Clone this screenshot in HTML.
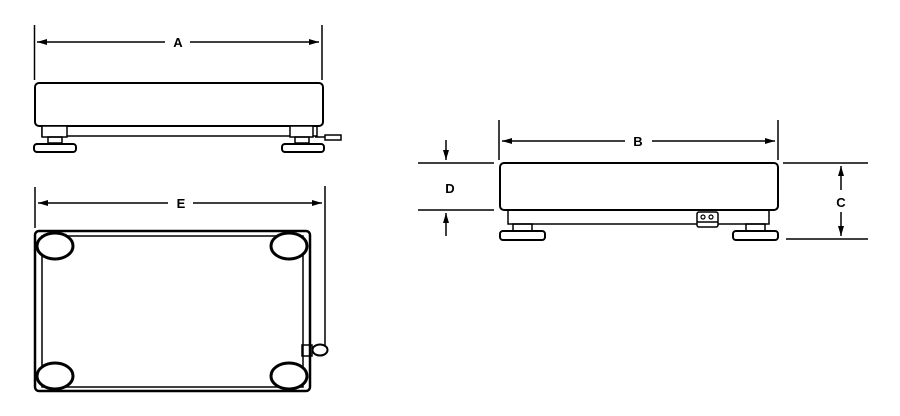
<!DOCTYPE html>
<html><head><style>html,body{margin:0;padding:0;background:#fff}svg{display:block}text{font-family:"Liberation Sans",sans-serif;font-weight:bold;font-size:13px}</style></head>
<body>
<svg width="900" height="416" viewBox="0 0 900 416" xmlns="http://www.w3.org/2000/svg">
<defs>
<marker id="ar" viewBox="0 0 10 6" refX="10" refY="3" markerWidth="10" markerHeight="6" orient="auto" markerUnits="userSpaceOnUse"><path d="M0,0 L10,3 L0,6 z" fill="#000"/></marker>
</defs>
<g stroke="#000" fill="none" stroke-width="1.5">
<!-- View A -->
<line x1="34.5" y1="25" x2="34.5" y2="80"/>
<line x1="322" y1="25" x2="322" y2="80"/>
<line x1="165" y1="42" x2="37" y2="42" marker-end="url(#ar)"/>
<line x1="190" y1="42" x2="319" y2="42" marker-end="url(#ar)"/>
<rect x="35" y="83" width="288" height="43" rx="4" stroke-width="2"/>
<rect x="42" y="126" width="275" height="10" />
<rect x="42" y="126" width="25" height="11" fill="#fff"/>
<rect x="290" y="126" width="23" height="11" fill="#fff"/>
<rect x="48" y="137" width="14" height="6"/>
<rect x="295" y="137" width="14" height="6"/>
<rect x="34" y="144" width="42" height="8" rx="3" stroke-width="2"/>
<rect x="282" y="144" width="42" height="8" rx="3" stroke-width="2"/>
<rect x="325" y="135" width="16" height="5"/>
<line x1="315" y1="137" x2="325" y2="137"/>
<!-- View E -->
<line x1="35" y1="187" x2="35" y2="228"/>
<line x1="325" y1="186" x2="325" y2="350"/>
<line x1="168" y1="203" x2="38" y2="203" marker-end="url(#ar)"/>
<line x1="193" y1="203" x2="322" y2="203" marker-end="url(#ar)"/>
<rect x="35" y="231" width="275" height="160" rx="4" stroke-width="2.5"/>
<rect x="42" y="236" width="261" height="151"/>
<ellipse cx="55" cy="246" rx="18" ry="13" fill="#fff" stroke-width="3"/>
<ellipse cx="289" cy="246" rx="18" ry="13" fill="#fff" stroke-width="3"/>
<ellipse cx="55" cy="376" rx="18" ry="13" fill="#fff" stroke-width="3"/>
<ellipse cx="289" cy="376" rx="18" ry="13" fill="#fff" stroke-width="3"/>
<rect x="302" y="345" width="10" height="11"/>
<ellipse cx="320" cy="350" rx="7.5" ry="5.5" fill="#fff" stroke-width="2"/>
<!-- View B -->
<line x1="499" y1="120" x2="499" y2="160"/>
<line x1="778" y1="120" x2="778" y2="160"/>
<line x1="625" y1="141" x2="502" y2="141" marker-end="url(#ar)"/>
<line x1="652" y1="141" x2="775" y2="141" marker-end="url(#ar)"/>
<rect x="500" y="163" width="278" height="47" rx="4" stroke-width="2"/>
<rect x="508" y="210" width="261" height="14"/>
<rect x="697" y="212" width="21" height="15" rx="2" fill="#fff"/>
<circle cx="703" cy="217" r="2" stroke-width="1.2"/>
<circle cx="711" cy="217" r="2" stroke-width="1.2"/>
<line x1="697" y1="222" x2="718" y2="222"/>
<rect x="513" y="224" width="19" height="7"/>
<rect x="746" y="224" width="19" height="7"/>
<rect x="500" y="231" width="45" height="9" rx="3" stroke-width="2"/>
<rect x="733" y="231" width="45" height="9" rx="3" stroke-width="2"/>
<!-- D -->
<line x1="418" y1="163" x2="494" y2="163"/>
<line x1="418" y1="210" x2="494" y2="210"/>
<line x1="446" y1="140" x2="446" y2="160" marker-end="url(#ar)"/>
<line x1="446" y1="236" x2="446" y2="213" marker-end="url(#ar)"/>
<!-- C -->
<line x1="783" y1="163" x2="868" y2="163"/>
<line x1="786" y1="239" x2="868" y2="239"/>
<line x1="841" y1="190" x2="841" y2="166" marker-end="url(#ar)"/>
<line x1="841" y1="212" x2="841" y2="236" marker-end="url(#ar)"/>
</g>
<text x="178" y="47" text-anchor="middle">A</text>
<text x="181" y="208" text-anchor="middle">E</text>
<text x="638" y="146" text-anchor="middle">B</text>
<text x="450" y="193" text-anchor="middle">D</text>
<text x="841" y="207" text-anchor="middle">C</text>
</svg>
</body></html>
